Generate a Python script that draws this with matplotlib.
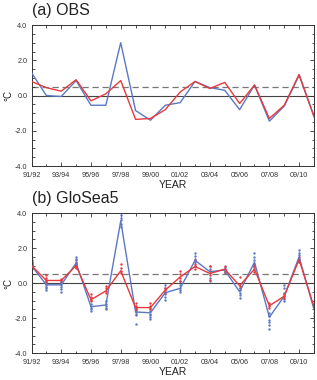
import matplotlib
matplotlib.use("Agg")
import matplotlib.pyplot as plt
from matplotlib.ticker import MultipleLocator

plt.rcParams['font.family'] = ['Liberation Sans', 'DejaVu Sans']

years = ['91/92', '92/93', '93/94', '94/95', '95/96', '96/97', '97/98', '98/99', '99/00', '00/01',
         '01/02', '02/03', '03/04', '04/05', '05/06', '06/07', '07/08', '08/09', '09/10', '10/11']
tick_labels = ['91/92', '93/94', '95/96', '97/98', '99/00', '01/02', '03/04', '05/06', '07/08', '09/10']

obs_blue = [1.3, 0.0, -0.05, 0.85, -0.55, -0.55, 3.0, -0.85, -1.4, -0.55,
            -0.4, 0.8, 0.45, 0.3, -0.8, 0.6, -1.45, -0.6, 1.15, -1.15]
obs_red = [0.8, 0.45, 0.25, 0.9, -0.3, 0.1, 0.85, -1.35, -1.3, -0.8,
           0.2, 0.8, 0.4, 0.75, -0.45, 0.6, -1.3, -0.55, 1.2, -1.2]

glo_blue = [1.0, -0.1, -0.1, 1.15, -1.35, -1.25, 3.55, -1.65, -1.7, -0.55,
            -0.3, 1.3, 0.65, 0.75, -0.5, 1.2, -1.95, -0.75, 1.5, -1.5]
glo_red = [1.0, 0.15, 0.15, 1.0, -0.95, -0.45, 0.7, -1.4, -1.4, -0.4,
           0.35, 0.95, 0.55, 0.8, -0.15, 0.8, -1.3, -0.75, 1.35, -1.35]

members_blue = [
    [0.8, 0.9, 1.0, 1.1, 1.2, 1.35, 1.5],
    [-0.4, -0.3, -0.2, -0.1, 0.0, 0.1],
    [-0.5, -0.35, -0.2, -0.1, 0.0, 0.1],
    [0.9, 1.0, 1.1, 1.2, 1.3, 1.4, 1.5],
    [-1.6, -1.5, -1.4, -1.3, -1.2],
    [-1.5, -1.4, -1.3, -1.2, -1.0],
    [3.2, 3.4, 3.6, 3.75, 3.9],
    [-2.35, -1.85, -1.75, -1.65, -1.5],
    [-2.05, -1.95, -1.85, -1.75, -1.6],
    [-0.95, -0.8, -0.65, -0.5, -0.3, -0.1],
    [-0.5, -0.4, -0.3, -0.1, 0.1],
    [1.0, 1.2, 1.4, 1.55, 1.7],
    [0.1, 0.3, 0.6, 0.8, 0.95],
    [0.6, 0.7, 0.8, 0.9],
    [-0.85, -0.7, -0.55, -0.4, -0.3],
    [0.9, 1.1, 1.3, 1.5, 1.7],
    [-2.6, -2.4, -2.25, -2.1, -1.9, -1.7],
    [-1.05, -0.9, -0.75, -0.55, -0.3, -0.1],
    [1.2, 1.4, 1.6, 1.75, 1.9],
    [-2.15, -1.9, -1.7, -1.5, -1.3],
]
members_red = [
    [0.85, 0.95, 1.05, 1.15],
    [0.05, 0.15, 0.3, 0.45],
    [0.05, 0.15, 0.25],
    [0.85, 0.95, 1.05, 1.15],
    [-1.05, -0.95, -0.8, -0.6],
    [-0.55, -0.45, -0.3, -0.15],
    [0.55, 0.7, 0.85, 1.1],
    [-1.55, -1.4, -1.3, -1.15],
    [-1.5, -1.4, -1.3, -1.15],
    [-0.55, -0.4, -0.3],
    [0.1, 0.3, 0.5, 0.7],
    [0.8, 0.95, 1.1, 1.3],
    [0.2, 0.45, 0.7, 0.95],
    [0.65, 0.8, 0.95],
    [-0.3, -0.15, 0.35],
    [0.65, 0.8, 0.95, 1.05],
    [-1.45, -1.3, -1.15],
    [-0.85, -0.75, -0.6],
    [1.2, 1.35, 1.5],
    [-1.5, -1.35, -1.2],
]

BLUE = '#5a78c4'
RED = '#e63a3c'

fig = plt.figure(figsize=(3.17, 3.80), dpi=100)
ax_a = fig.add_axes([0.0994, 0.563, 0.891, 0.371])
ax_b = fig.add_axes([0.0994, 0.071, 0.891, 0.368])

x = list(range(len(years)))


def style(ax, title):
    ax.set_xlim(0, len(years) - 1)
    ax.set_ylim(-4, 4)
    ax.axhline(0, color='#444444', lw=0.8, zorder=1)
    ax.axhline(0.5, color='#777777', lw=0.9, ls=(0, (5, 3)), zorder=1)
    ax.set_xticks(list(range(0, len(years), 2)))
    ax.set_xticklabels(tick_labels)
    ax.xaxis.set_minor_locator(MultipleLocator(1))
    ax.set_yticks([-4, -2, 0, 2, 4])
    ax.set_yticklabels(['-4.0', '-2.0', '0.0', '2.0', '4.0'])
    ax.yaxis.set_minor_locator(MultipleLocator(0.5))
    ax.tick_params(which='both', direction='in', top=True, right=True,
                   labelsize=5.2, width=0.6, color='#333333', labelcolor='#333333')
    ax.tick_params(axis='x', pad=4)
    ax.tick_params(axis='y', pad=3)
    ax.tick_params(which='major', length=3)
    ax.tick_params(which='minor', length=1.8)
    for s in ax.spines.values():
        s.set_linewidth(0.7)
        s.set_color('#333333')
    ax.set_xlabel('YEAR', fontsize=7.5, labelpad=1, color='#222222')
    ax.set_ylabel('°C', fontsize=7, labelpad=1, color='#222222')
    ax.text(0.0, 1.05, title, transform=ax.transAxes, fontsize=11.5,
            ha='left', va='bottom', color='#222222')


style(ax_a, '(a) OBS')
ax_a.plot(x, obs_blue, color=BLUE, lw=1.0, zorder=3)
ax_a.plot(x, obs_red, color=RED, lw=1.0, zorder=4)

style(ax_b, '(b) GloSea5')
for i, vals in enumerate(members_blue):
    ax_b.scatter([i] * len(vals), vals, s=3, color=BLUE, lw=0, zorder=2)
for i, vals in enumerate(members_red):
    ax_b.scatter([i] * len(vals), vals, s=3, color=RED, lw=0, zorder=2)
ax_b.plot(x, glo_blue, color=BLUE, lw=1.0, zorder=3)
ax_b.plot(x, glo_red, color=RED, lw=1.0, zorder=4)

fig.savefig('out.png', dpi=100)
